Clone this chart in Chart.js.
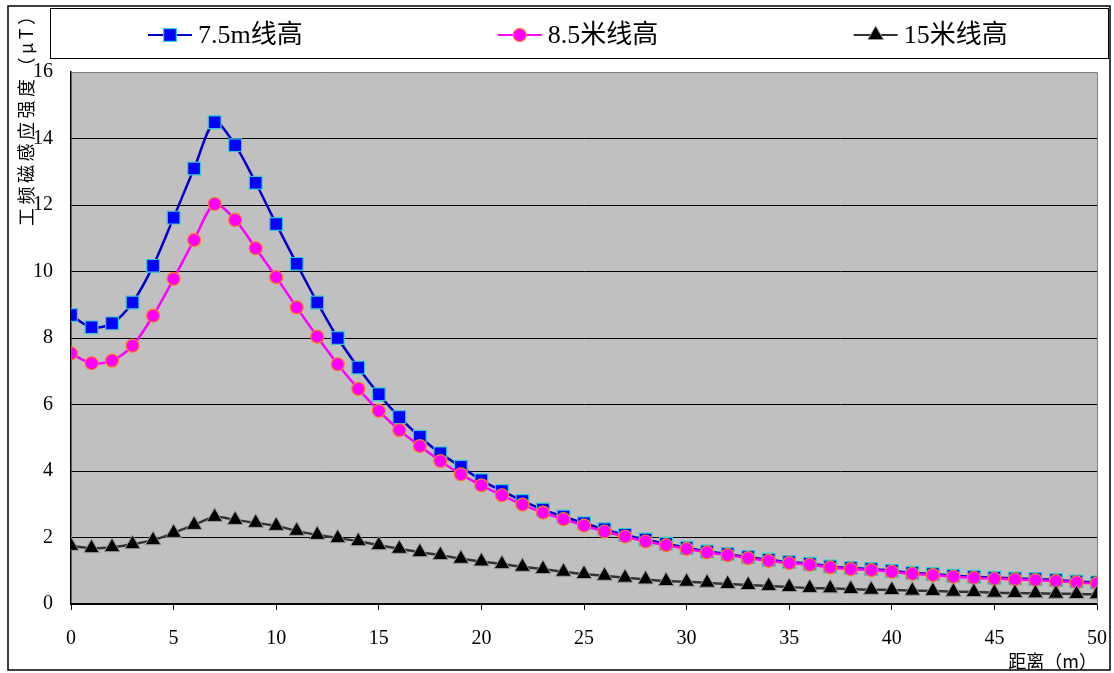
<!DOCTYPE html>
<html>
<head>
<meta charset="utf-8">
<script src="https://cdn.jsdelivr.net/npm/chart.js@4/dist/chart.umd.min.js"></script>
<style>
  html, body { margin: 0; padding: 0; background: #fff; }
  #wrap { width: 1114px; height: 673px; }
</style>
</head>
<body>
<div id="wrap"><canvas id="chart" width="1114" height="673"></canvas></div>
<script>
// 距离 (m)
const distances = [0, 1, 2, 3, 4, 5, 6, 7, 8, 9, 10, 11, 12, 13, 14, 15, 16, 17, 18, 19, 20,
    21, 22, 23, 24, 25, 26, 27, 28, 29, 30, 31, 32, 33, 34, 35, 36, 37, 38, 39, 40,
    41, 42, 43, 44, 45, 46, 47, 48, 49, 50];

// 工频磁感应强度 (μT)
const line75 = [8.69, 8.32, 8.44, 9.07, 10.17, 11.62, 13.1, 14.49, 13.8, 12.67, 11.43,
    10.23, 9.07, 8.0, 7.11, 6.31, 5.62, 5.03, 4.53, 4.13, 3.72,
    3.4, 3.1, 2.84, 2.63, 2.43, 2.25, 2.08, 1.94, 1.81, 1.69,
    1.58, 1.5, 1.41, 1.33, 1.26, 1.21, 1.13, 1.08, 1.05, 1.0,
    0.94, 0.9, 0.85, 0.82, 0.79, 0.77, 0.75, 0.72, 0.68, 0.65];

const line85 = [7.54, 7.24, 7.32, 7.77, 8.67, 9.78, 10.95, 12.03, 11.55, 10.7, 9.83,
    8.92, 8.04, 7.21, 6.47, 5.81, 5.23, 4.75, 4.3, 3.9, 3.57,
    3.27, 2.99, 2.75, 2.55, 2.36, 2.18, 2.03, 1.88, 1.77, 1.66,
    1.55, 1.47, 1.38, 1.3, 1.23, 1.18, 1.1, 1.05, 1.02, 0.97,
    0.91, 0.87, 0.82, 0.79, 0.76, 0.74, 0.72, 0.69, 0.65, 0.62];

const line15 = [1.75, 1.68, 1.71, 1.8, 1.92, 2.14, 2.38, 2.62, 2.53, 2.44, 2.35,
    2.2, 2.08, 1.98, 1.89, 1.77, 1.66, 1.56, 1.47, 1.36, 1.28,
    1.2, 1.12, 1.05, 0.97, 0.9, 0.85, 0.79, 0.74, 0.69, 0.67,
    0.64, 0.6, 0.57, 0.54, 0.51, 0.48, 0.47, 0.45, 0.43, 0.42,
    0.4, 0.39, 0.37, 0.36, 0.34, 0.33, 0.32, 0.31, 0.3, 0.29];

const seriesNames = ['7.5m线高', '8.5米线高', '15米线高'];
const yTicks = [0, 2, 4, 6, 8, 10, 12, 14, 16];
const xTicks = [0, 5, 10, 15, 20, 25, 30, 35, 40, 45, 50];
const yTitle = '工频磁感应强度（μT）';
const xTitle = '距离（m）';

const FONT = "'Liberation Serif', 'Noto Sans CJK SC', serif";
const CJK = "'Noto Sans CJK SC', 'Liberation Serif', serif";

function toPoints(values) {
    return distances.map((d, i) => ({ x: d, y: values[i] }));
}

// draw a marker the same way as on the chart (for the legend)
function drawMarker(ctx, ds, x, y) {
    const r = ds.pointRadius;
    ctx.save();
    ctx.fillStyle = ds.pointBackgroundColor;
    ctx.strokeStyle = ds.pointBorderColor;
    ctx.lineWidth = ds.pointBorderWidth;
    ctx.beginPath();
    if (ds.pointStyle === 'rect') {
        const s = r * Math.SQRT1_2;
        ctx.rect(x - s, y - s, 2 * s, 2 * s);
    } else if (ds.pointStyle === 'triangle') {
        ctx.moveTo(x, y - r);
        ctx.lineTo(x + r * Math.sin(Math.PI / 3), y + r / 2);
        ctx.lineTo(x - r * Math.sin(Math.PI / 3), y + r / 2);
        ctx.closePath();
    } else {
        ctx.arc(x, y, r, 0, Math.PI * 2);
    }
    ctx.fill();
    ctx.stroke();
    ctx.restore();
}

const decor = {
    id: 'decor',
    beforeDraw(chart) {
        const { ctx, chartArea: a } = chart;
        ctx.save();
        ctx.fillStyle = '#fff';
        ctx.fillRect(0, 0, chart.width, chart.height);
        ctx.fillStyle = '#c0c0c0';
        ctx.fillRect(a.left, a.top, a.right - a.left, a.bottom - a.top);
        ctx.restore();
    },
    beforeDatasetsDraw(chart) {
        const { ctx, chartArea: a } = chart;
        ctx.save();
        ctx.strokeStyle = '#808080';
        ctx.lineWidth = 1;
        ctx.beginPath();
        ctx.moveTo(a.left, a.top + 0.5);
        ctx.lineTo(a.right + 0.5, a.top + 0.5);
        ctx.lineTo(a.right + 0.5, a.bottom);
        ctx.stroke();
        ctx.restore();
    },
    afterDraw(chart) {
        const ctx = chart.ctx;
        ctx.save();
        // outer frame
        ctx.strokeStyle = '#000';
        ctx.lineWidth = 1.5;
        ctx.strokeRect(8, 6, 1102, 664);

        // legend box
        const lx = 50, ly = 8, lw = 1058, lh = 50;
        ctx.fillStyle = '#fff';
        ctx.fillRect(lx, ly, lw, lh);
        ctx.lineWidth = 1;
        ctx.strokeRect(lx + 0.5, ly + 0.5, lw, lh);

        ctx.font = '26px ' + FONT;
        ctx.textBaseline = 'middle';
        ctx.textAlign = 'left';
        const part = lw / 3;
        chart.data.datasets.forEach((ds, i) => {
            const tw = ctx.measureText(ds.label).width;
            const total = 44 + 8 + tw;
            const x0 = lx + part * i + (part - total) / 2;
            const cy = ly + lh / 2 + 2;
            ctx.strokeStyle = ds.borderColor;
            ctx.lineWidth = 2;
            ctx.beginPath();
            ctx.moveTo(x0, cy);
            ctx.lineTo(x0 + 44, cy);
            ctx.stroke();
            drawMarker(ctx, ds, x0 + 22, cy);
            ctx.fillStyle = '#000';
            ctx.fillText(ds.label, x0 + 50, cy + 1);
        });
        ctx.restore();

        // y axis title, running upwards
        ctx.save();
        ctx.translate(26, 226);
        ctx.rotate(-Math.PI / 2);
        ctx.font = '18px ' + CJK;
        ctx.letterSpacing = '3.5px';
        ctx.fillStyle = '#000';
        ctx.textAlign = 'left';
        ctx.textBaseline = 'middle';
        ctx.fillText(yTitle, 0, 0);
        ctx.letterSpacing = '0px';
        ctx.restore();
    }
};

new Chart(document.getElementById('chart'), {
    type: 'line',
    data: {
        datasets: [
            {
                label: seriesNames[0],
                data: toPoints(line75),
                borderColor: '#0000cc',
                borderWidth: 2.5,
                pointStyle: 'rect',
                pointRadius: 9,
                pointBackgroundColor: '#0000ff',
                pointBorderColor: '#33cccc',
                pointBorderWidth: 1.2,
                tension: 0.3,
                order: 3
            },
            {
                label: seriesNames[1],
                data: toPoints(line85),
                borderColor: '#ff00ff',
                borderWidth: 2.5,
                pointStyle: 'circle',
                pointRadius: 6.5,
                pointBackgroundColor: '#ff00ff',
                pointBorderColor: '#ff7a1a',
                pointBorderWidth: 1.2,
                tension: 0.3,
                order: 2
            },
            {
                label: seriesNames[2],
                data: toPoints(line15),
                borderColor: '#333333',
                borderWidth: 2.5,
                pointStyle: 'triangle',
                pointRadius: 9,
                pointBackgroundColor: '#000000',
                pointBorderColor: '#999999',
                pointBorderWidth: 1,
                tension: 0.3,
                order: 1
            }
        ]
    },
    options: {
        responsive: false,
        animation: false,
        devicePixelRatio: 1,
        layout: { padding: { left: 0, top: 72, right: 17, bottom: 0 } },
        plugins: {
            legend: { display: false },
            tooltip: { enabled: false }
        },
        scales: {
            x: {
                type: 'linear',
                min: 0,
                max: 50,
                afterBuildTicks(scale) {
                    scale.ticks = xTicks.map(v => ({ value: v }));
                },
                afterFit(scale) {
                    scale.height = 69;
                    scale.paddingLeft = 0;
                    scale.paddingRight = 0;
                },
                grid: {
                    drawOnChartArea: false,
                    drawTicks: true,
                    tickLength: 6,
                    tickColor: '#000',
                    tickWidth: 1
                },
                border: { color: '#000', width: 1.5 },
                ticks: {
                    color: '#000',
                    padding: 17,
                    maxRotation: 0,
                    font: { family: FONT, size: 20 }
                },
                title: {
                    display: true,
                    text: xTitle,
                    align: 'end',
                    color: '#000',
                    padding: { top: 0, bottom: 1 },
                    font: { family: CJK, size: 18 }
                }
            },
            y: {
                min: 0,
                max: 16,
                afterBuildTicks(scale) {
                    scale.ticks = yTicks.map(v => ({ value: v }));
                },
                afterFit(scale) {
                    scale.width = 71;
                    scale.paddingTop = 0;
                    scale.paddingBottom = 0;
                },
                grid: {
                    color: '#000',
                    lineWidth: 1,
                    drawTicks: false
                },
                border: { color: '#000', width: 1.5 },
                ticks: {
                    color: '#000',
                    padding: 18,
                    font: { family: FONT, size: 20 }
                }
            }
        }
    },
    plugins: [decor]
});
</script>
</body>
</html>
